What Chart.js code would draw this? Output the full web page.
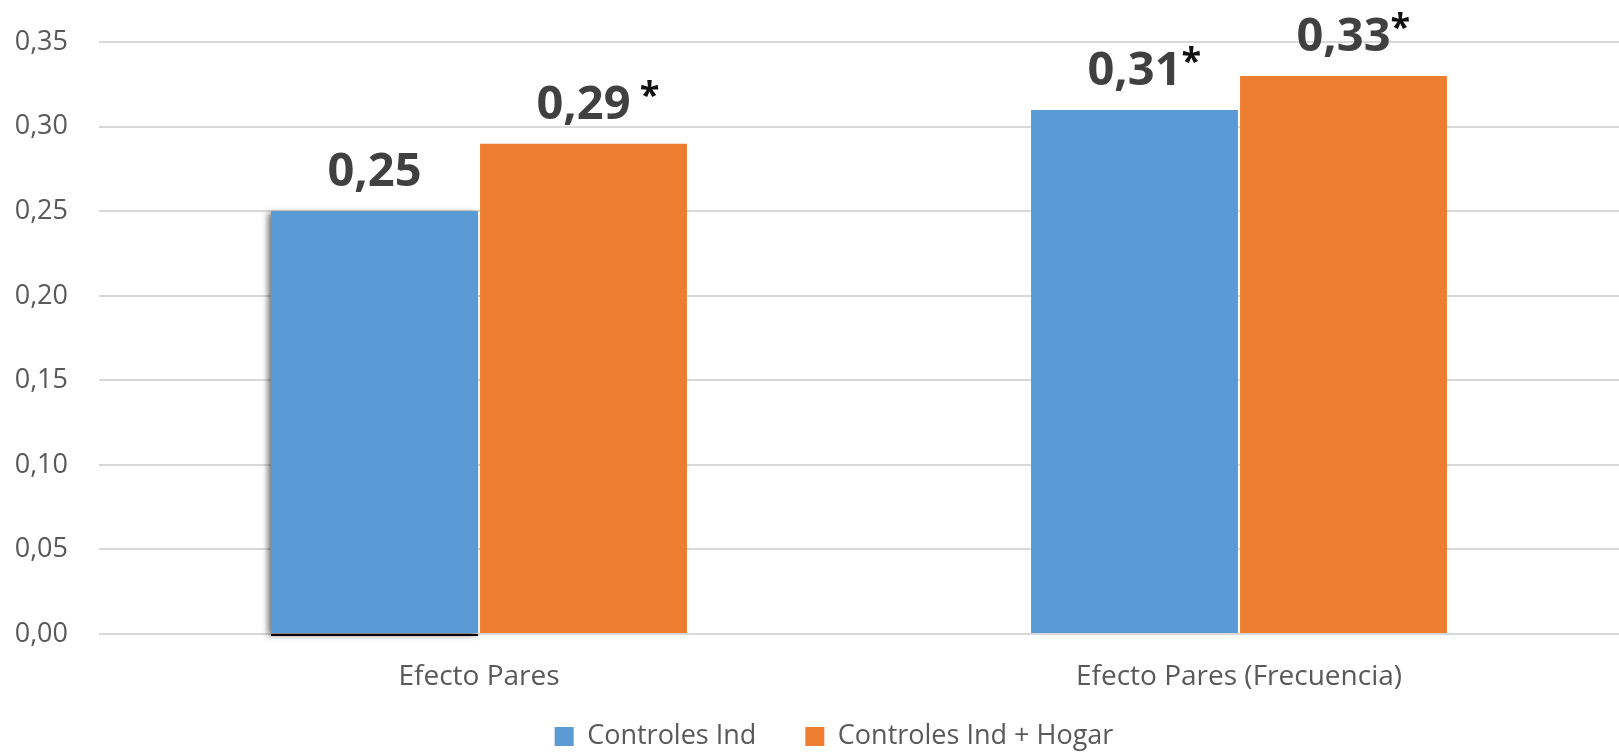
<!DOCTYPE html>
<html>
<head>
<meta charset="utf-8">
<script src="https://cdn.jsdelivr.net/npm/chart.js@4.4.1/dist/chart.umd.min.js"></script>
<style>
  html, body { margin: 0; padding: 0; background: #fff; }
  #wrap { width: 1619px; height: 754px; position: relative; }
</style>
</head>
<body>
<div id="wrap"><canvas id="chart"></canvas></div>
<script>
const categories = ["Efecto Pares", "Efecto Pares (Frecuencia)"];
const seriesNames = ["Controles Ind", "Controles Ind + Hogar"];
const controlesInd = [0.25, 0.31];
const controlesHogar = [0.29, 0.33];
// significance marks shown after each value label
const marksInd = ["", "*"];
const marksHogar = [" *", "*"];
const yTicks = [0, 0.05, 0.10, 0.15, 0.20, 0.25, 0.30, 0.35];

const FONT = "'Open Sans', 'DejaVu Sans', sans-serif";

function fmt(v) {
  return v.toFixed(2).replace(".", ",");
}

// value labels above the bars, number centred, star appended
const valueLabels = {
  id: "valueLabels",
  afterDatasetsDraw(chart) {
    const ctx = chart.ctx;
    const marks = [marksInd, marksHogar];
    chart.data.datasets.forEach((ds, di) => {
      chart.getDatasetMeta(di).data.forEach((bar, i) => {
        const text = fmt(ds.data[i]);
        const base = bar.y - 25;
        ctx.save();
        ctx.font = "bold 47px " + FONT;
        ctx.fillStyle = "#404040";
        ctx.textAlign = "center";
        ctx.textBaseline = "alphabetic";
        ctx.fillText(text, bar.x, base);
        const w = ctx.measureText(text).width;
        const mark = marks[di][i];
        if (mark) {
          ctx.font = "bold 36px " + FONT;
          ctx.fillStyle = "#111";
          ctx.textAlign = "left";
          ctx.fillText(mark, bar.x + w / 2, base - 12);
        }
        ctx.restore();
      });
    });
  }
};

// the first bar of the original carries a soft shadow
const barShadow = {
  id: "barShadow",
  beforeDatasetsDraw(chart) {
    const bar = chart.getDatasetMeta(0).data[0];
    const ctx = chart.ctx;
    const w = bar.width;
    ctx.save();
    ctx.shadowColor = "rgba(0,0,0,0.55)";
    ctx.shadowBlur = 6;
    ctx.shadowOffsetX = -3;
    ctx.shadowOffsetY = 2;
    ctx.fillStyle = "#5B9BD5";
    ctx.fillRect(bar.x - w / 2, bar.y, w, bar.base - bar.y);
    ctx.restore();
    ctx.save();
    ctx.fillStyle = "#000";
    ctx.fillRect(bar.x - w / 2, bar.base + 1, w, 2);
    ctx.restore();
  }
};

// legend: tighter box, nudged to where the original has it
const legendPlace = {
  id: "legendPlace",
  beforeInit(chart) {
    const fit = chart.legend.fit;
    chart.legend.fit = function () {
      fit.call(this);
      this.height = 60;
    };
  },
  afterLayout(chart) {
    const lg = chart.legend;
    lg.left += 18;
    lg.right += 18;
    lg.top -= 20;
  }
};

new Chart(document.getElementById("chart"), {
  type: "bar",
  data: {
    labels: categories,
    datasets: [{
      label: seriesNames[0],
      data: controlesInd,
      backgroundColor: "#5B9BD5"
    }, {
      label: seriesNames[1],
      data: controlesHogar,
      backgroundColor: "#ED7D31"
    }]
  },
  options: {
    responsive: true,
    maintainAspectRatio: false,
    animation: false,
    datasets: {
      bar: {
        categoryPercentage: 0.55,
        barPercentage: 0.99
      }
    },
    layout: {
      padding: { left: 13, right: 0, top: 0, bottom: 0 }
    },
    scales: {
      x: {
        grid: { display: false },
        border: { display: false },
        ticks: {
          color: "#595959",
          font: { family: FONT, size: 28 },
          padding: 18
        },
        afterFit(axis) {
          axis.height = 60;
        }
      },
      y: {
        min: 0,
        max: 0.375,
        afterBuildTicks(axis) {
          axis.ticks = yTicks.map(v => ({ value: v }));
        },
        afterFit(axis) {
          axis.paddingTop = 0;
          axis.width = 86;
        },
        grid: {
          color: "#d9d9d9",
          lineWidth: 2,
          drawTicks: false
        },
        border: { display: false },
        ticks: {
          color: "#595959",
          font: { family: FONT, size: 27 },
          padding: 31,
          callback: v => fmt(v)
        }
      }
    },
    plugins: {
      legend: {
        position: "bottom",
        labels: {
          color: "#595959",
          font: { family: FONT, size: 27 },
          boxWidth: 19,
          boxHeight: 19,
          padding: 49
        }
      },
      tooltip: { enabled: false }
    }
  },
  plugins: [legendPlace, barShadow, valueLabels]
});
</script>
</body>
</html>
